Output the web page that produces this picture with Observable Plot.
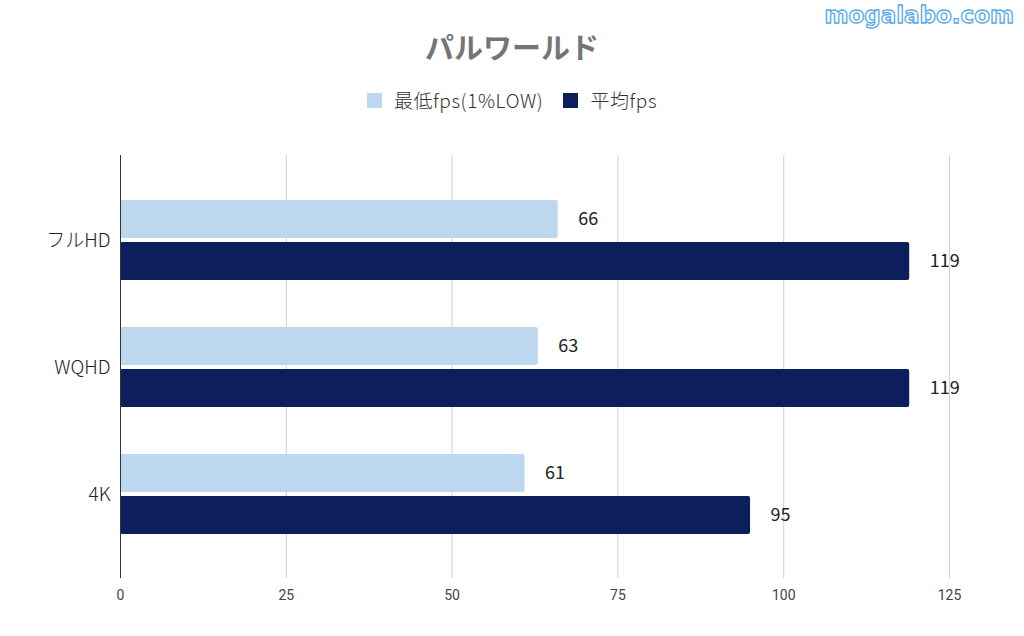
<!DOCTYPE html>
<html>
<head>
<meta charset="utf-8">
<script src="https://cdn.jsdelivr.net/npm/d3@7"></script>
<script src="https://cdn.jsdelivr.net/npm/@observablehq/plot@0.6"></script>
<style>
  body { margin: 0; background: #fff; font-family: "Noto Sans CJK JP", "Noto Sans", sans-serif; }
  #wrap { position: relative; width: 1024px; height: 636px; overflow: hidden; }
  #title { position: absolute; left: 0; width: 1024px; top: 26px; text-align: center; font-size: 29px; font-weight: bold; color: #757575; line-height: 40px; }
  #legend { position: absolute; left: 0; width: 1024px; top: 88px; display: flex; justify-content: center; align-items: center; font-size: 19px; letter-spacing: 0.6px; color: #333; line-height: 24px; font-weight: 300; }
  .sw { display: inline-block; width: 15px; height: 15px; margin-right: 12px; }
  .item { display: flex; align-items: center; margin: 0 10px; }
  #wm { position: absolute; right: 10px; top: 2px; font-family: "DejaVu Sans", sans-serif; font-weight: bold; font-size: 23px; color: #fff; -webkit-text-stroke: 1.3px #55aaea; letter-spacing: 0px; }
  #chart { position: absolute; left: 0; top: 130px; }
</style>
</head>
<body>
<div id="wrap">
  <div id="wm">mogalabo.com</div>
  <div id="title">パルワールド</div>
  <div id="legend"></div>
  <div id="chart"></div>
</div>
<script>
const categories = ["フルHD", "WQHD", "4K"];
const seriesNames = ["最低fps(1%LOW)", "平均fps"];
const lowValues = [66, 63, 61];
const avgValues = [119, 119, 95];
const xTicks = [0, 25, 50, 75, 100, 125];
const colors = ["#bdd7ee", "#0c1e5b"];

const lowData = categories.map((c, i) => ({category: c, value: lowValues[i]}));
const avgData = categories.map((c, i) => ({category: c, value: avgValues[i]}));

const legend = document.getElementById("legend");
seriesNames.forEach((n, i) => {
  const it = document.createElement("div");
  it.className = "item";
  it.innerHTML = `<span class="sw" style="background:${colors[i]}"></span><span>${n}</span>`;
  legend.appendChild(it);
});

const chart = Plot.plot({
  width: 1024,
  height: 506,
  marginTop: 25,
  marginBottom: 58,
  marginLeft: 120,
  marginRight: 75,
  style: { fontFamily: "'Noto Sans CJK JP', 'Noto Sans', sans-serif", background: "#fff" },
  x: { domain: [0, 125], ticks: xTicks, label: null },
  y: { domain: categories, paddingInner: 0.373, paddingOuter: 0.345, label: null },
  marks: [
    Plot.ruleX(xTicks.filter(d => d > 0), { stroke: "#d0d0d0", strokeWidth: 1 }),
    Plot.barX(lowData, { y: "category", x: "value", fill: colors[0], insetBottom: 42, rx: 2 }),
    Plot.barX(avgData, { y: "category", x: "value", fill: colors[1], insetTop: 42, rx: 2 }),
    Plot.text(lowData, { y: "category", x: "value", text: d => String(d.value), dy: -21, dx: 20, textAnchor: "start", fontSize: 18, fill: "#222" }),
    Plot.text(avgData, { y: "category", x: "value", text: d => String(d.value), dy: 21, dx: 20, textAnchor: "start", fontSize: 18, fill: "#222" }),
    Plot.ruleX([0], { stroke: "#333", strokeWidth: 1 }),
    Plot.axisX({ ticks: xTicks, tickSize: 0, tickPadding: 12, fontSize: 14, fill: "#444", label: null, fontFamily: "'Liberation Sans Narrow', Roboto, sans-serif" }),
    Plot.axisY({ tickSize: 0, tickPadding: 10, fontSize: 19, fontWeight: 300, fill: "#222", label: null, style: "letter-spacing: 0.8px" })
  ]
});
document.getElementById("chart").appendChild(chart);
</script>
</body>
</html>
